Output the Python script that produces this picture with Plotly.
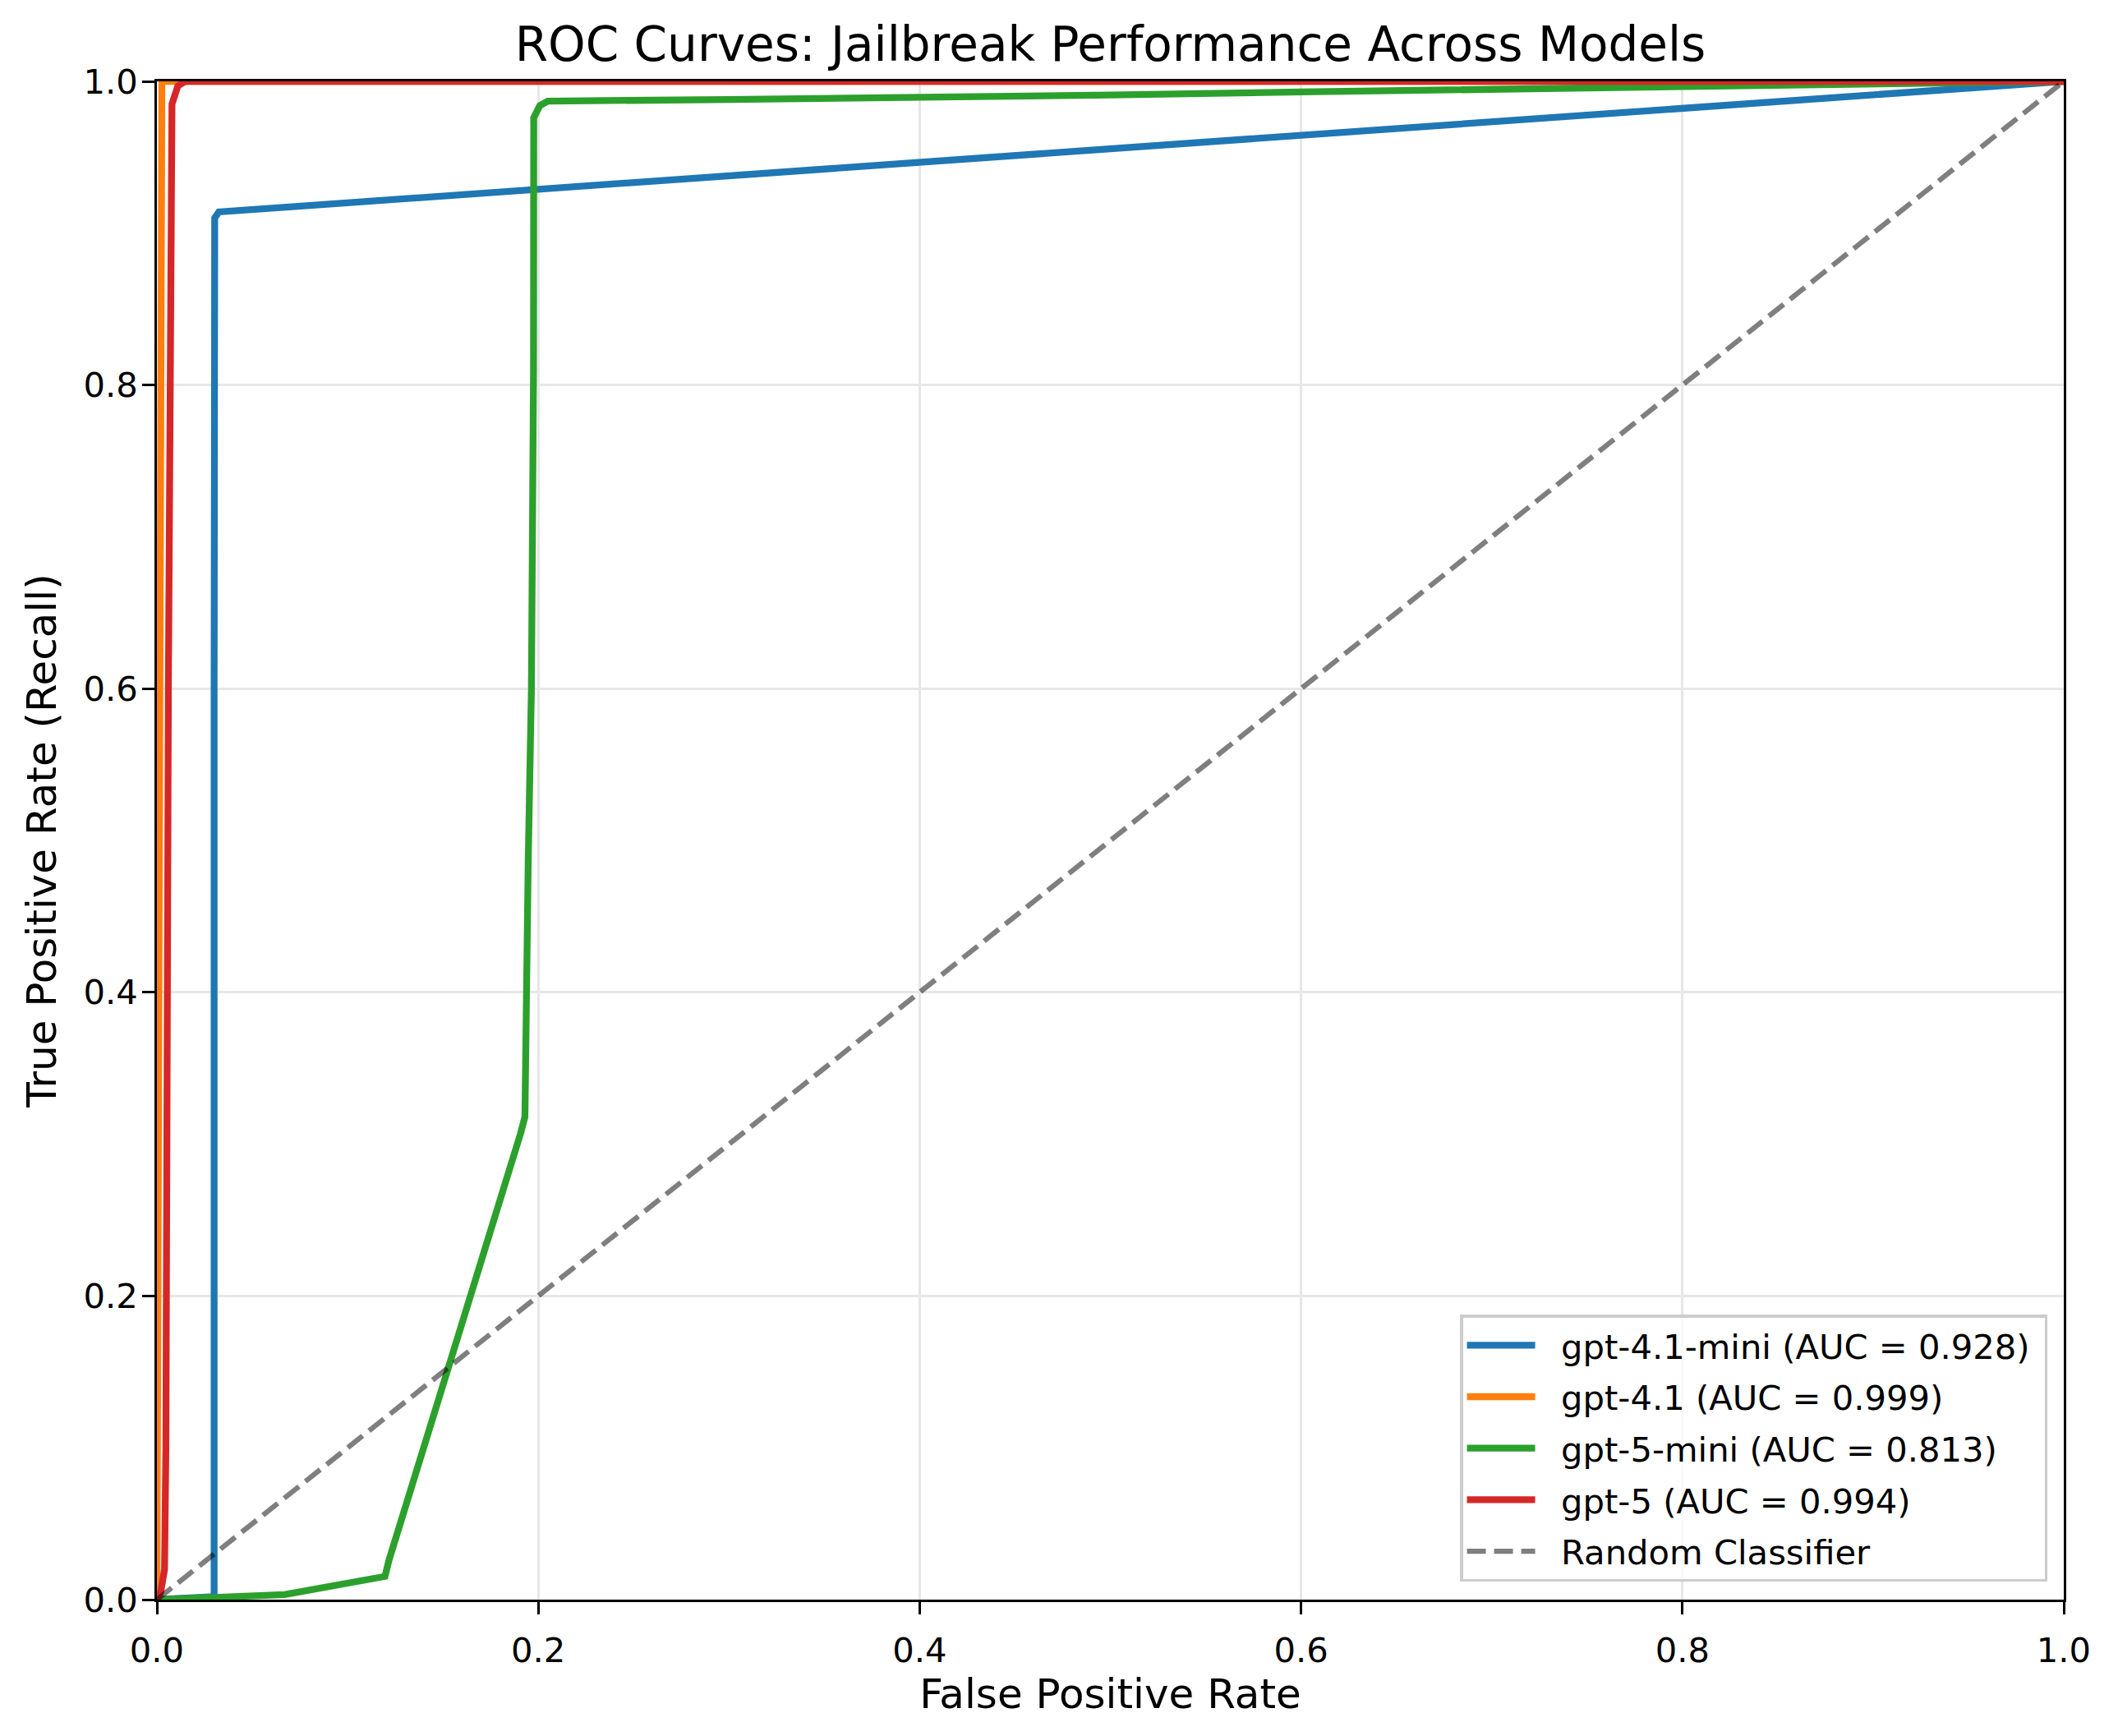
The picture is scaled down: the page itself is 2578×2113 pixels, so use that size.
import plotly.graph_objects as go

# ---- data ----
models = ["gpt-4.1-mini", "gpt-4.1", "gpt-5-mini", "gpt-5"]
auc_values = [0.928, 0.999, 0.813, 0.994]
colors = ["#1f77b4", "#ff7f0e", "#2ca02c", "#d62728"]

fpr_gpt41_mini = [0.0, 0.0300, 0.0300, 0.0303, 0.0325, 0.2, 0.4, 0.6, 0.8, 1.0]
tpr_gpt41_mini = [0.0, 0.002, 0.60, 0.910, 0.914, 0.929, 0.946, 0.964, 0.982, 1.0]

fpr_gpt41 = [0.0, 0.0008, 0.0016, 0.0020, 0.0026, 1.0]
tpr_gpt41 = [0.0, 0.30, 0.80, 0.99, 1.0, 1.0]

fpr_gpt5_mini = [0.0, 0.047, 0.067, 0.1196, 0.1217, 0.1907, 0.193, 0.1947, 0.1964, 0.1975,
                 0.1976, 0.2008, 0.205, 0.3, 0.4, 0.5, 0.6, 0.7, 0.8, 0.9, 1.0]
tpr_gpt5_mini = [0.0, 0.0021, 0.0033, 0.0153, 0.026, 0.307, 0.318, 0.485, 0.60, 0.81,
                 0.976, 0.984, 0.987, 0.988, 0.989, 0.991, 0.993, 0.9945, 0.996, 0.998, 1.0]

fpr_gpt5 = [0.0, 0.002, 0.0040, 0.0047, 0.0060, 0.0069, 0.0079, 0.0110, 0.0150, 1.0]
tpr_gpt5 = [0.0, 0.005, 0.020, 0.100, 0.600, 0.914, 0.985, 0.997, 1.0, 1.0]

random_x = [0.0, 1.0]
random_y = [0.0, 1.0]

tick_vals = [0.0, 0.2, 0.4, 0.6, 0.8, 1.0]
tick_text = ["0.0", "0.2", "0.4", "0.6", "0.8", "1.0"]

fprs = [fpr_gpt41_mini, fpr_gpt41, fpr_gpt5_mini, fpr_gpt5]
tprs = [tpr_gpt41_mini, tpr_gpt41, tpr_gpt5_mini, tpr_gpt5]

# ---- figure ----
W, H = 2570, 2105          # page body has an 8px margin
FONT = "DejaVu Sans"
LW = 8.3
PAD = "\u00a0\u00a0"
TAIL = "\u00a0"

fig = go.Figure()
for i, (name, auc, col, fx, ty) in enumerate(zip(models, auc_values, colors, fprs, tprs)):
    fig.add_trace(go.Scatter(
        x=fx, y=ty, mode="lines",
        name=f"{PAD}{name} (AUC = {auc:.3f}){TAIL}",
        legendgroup=f"g{i}",
        line=dict(color=col, width=LW),
    ))

fig.add_trace(go.Scatter(
    x=random_x, y=random_y, mode="lines", name=f"{PAD}Random Classifier",
    legendgroup="g_random",
    line=dict(color="rgba(0,0,0,0.5)", width=6.25, dash="23px,10px"),
))

axis_common = dict(
    range=[0, 1],
    tickvals=tick_vals,
    ticktext=tick_text,
    ticks="outside",
    ticklen=14.6,
    tickwidth=3.3,
    tickcolor="black",
    tickfont=dict(family=FONT, size=41.7, color="black"),
    showgrid=True,
    gridcolor="#e7e7e7",
    gridwidth=3.3,
    zeroline=False,
    showline=True,
    linecolor="black",
    linewidth=3.3,
    mirror=True,
    automargin=False,
)

fig.update_xaxes(**axis_common, ticklabelstandoff=8,
                 title=dict(text="False Positive Rate",
                            font=dict(family=FONT, size=50, color="black"),
                            standoff=2))
fig.update_yaxes(**axis_common, ticklabelstandoff=-3,
                 title=dict(text="True Positive Rate (Recall)",
                            font=dict(family=FONT, size=50, color="black"),
                            standoff=18))

fig.update_layout(
    width=W, height=H,
    margin=dict(l=183, r=66, t=91, b=166, pad=0),
    paper_bgcolor="white",
    plot_bgcolor="white",
    title=dict(text="ROC Curves: Jailbreak Performance Across Models",
               font=dict(family=FONT, size=58, color="black"),
               x=0.5, xref="paper", xanchor="center",
               y=1 - 46 / H, yref="container", yanchor="middle"),
    legend=dict(
        x=0.9915, y=0.0117, xanchor="right", yanchor="bottom",
        bgcolor="rgba(255,255,255,0.8)",
        bordercolor="#cccccc", borderwidth=3.3,
        font=dict(family=FONT, size=41.7, color="black"),
        itemwidth=83,
        tracegroupgap=5.5,
    ),
    showlegend=True,
)

fig.write_html("out.html")
